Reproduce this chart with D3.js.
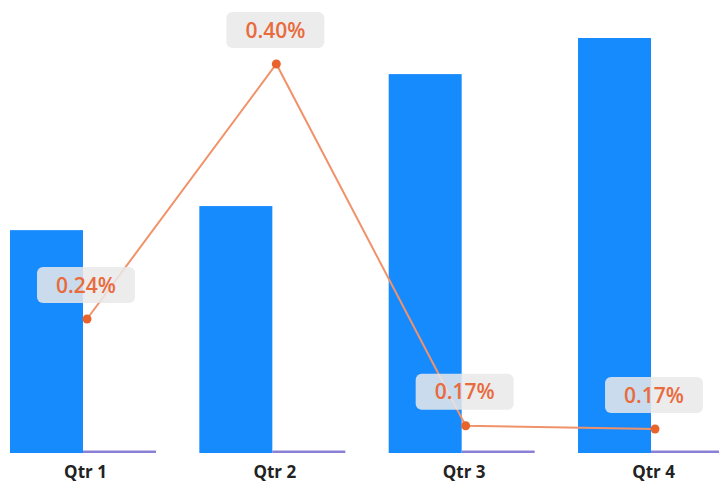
<!DOCTYPE html>
<html><head><meta charset="utf-8">
<script src="https://cdn.jsdelivr.net/npm/d3@7"></script>
<style>body{margin:0;background:#fff}svg{display:block}</style>
</head><body>
<svg id="chart" width="719" height="486"></svg>
<script>
const categories = ["Qtr 1", "Qtr 2", "Qtr 3", "Qtr 4"];
const barValues = [5.37, 5.95, 9.13, 10.0];
const baseValues = [0.06, 0.06, 0.06, 0.06];
const rateValues = [0.24, 0.40, 0.173, 0.171];
const rateLabels = ["0.24%", "0.40%", "0.17%", "0.17%"];

const svg = d3.select("#chart");
const x = d3.scaleBand().domain(categories).range([0, 734]).paddingInner(0.229).paddingOuter(0.0528);
const xs = d3.scaleBand().domain(["bar", "base"]).range([0, x.bandwidth()]);
const y = d3.scaleLinear().domain([0, 10]).range([453, 38]);
const y2 = d3.scaleLinear().domain([0.16, 0.40]).range([446.5, 64]);

const g = svg.append("g");
g.selectAll("rect.bar").data(categories).join("rect").attr("class", "bar")
  .attr("x", d => x(d) + xs("bar")).attr("width", xs.bandwidth())
  .attr("y", (d, i) => y(barValues[i])).attr("height", (d, i) => y(0) - y(barValues[i]))
  .attr("fill", "#168bfe");
g.selectAll("rect.base").data(categories).join("rect").attr("class", "base")
  .attr("x", d => x(d) + xs("base")).attr("width", xs.bandwidth())
  .attr("y", (d, i) => y(baseValues[i])).attr("height", (d, i) => y(0) - y(baseValues[i]))
  .attr("fill", "#8a80d6");

const px = d => x(d) + xs("base") + 4;
const pts = categories.map((c, i) => [px(c), y2(rateValues[i])]);
g.append("path").datum(pts).attr("d", d3.line()).attr("fill", "none")
  .attr("stroke", "#f0926a").attr("stroke-width", 2);
g.selectAll("circle").data(pts).join("circle")
  .attr("cx", d => d[0]).attr("cy", d => d[1]).attr("r", 4.5).attr("fill", "#e8642c");

const lab = g.selectAll("g.lab").data(pts).join("g").attr("class", "lab")
  .attr("transform", d => `translate(${d[0] - 1},${d[1] - 34})`);
lab.append("rect").attr("x", -49).attr("y", -18).attr("width", 98).attr("height", 36)
  .attr("rx", 6).attr("fill", "#e9e9e9").attr("fill-opacity", 0.85);
lab.append("text").attr("text-anchor", "middle").attr("dy", "0.36em")
  .attr("font-family", "'Open Sans', sans-serif").attr("font-weight", 600).attr("font-size", 21)
  .attr("fill", "#e96a3c").text((d, i) => rateLabels[i]);

const ax = svg.append("g").attr("transform", "translate(0,453)")
  .call(d3.axisBottom(d3.scalePoint().domain(categories).range([x(categories[0]) + xs("base") + 2, x(categories[3]) + xs("base") + 2])).tickSize(0).tickPadding(13));
ax.select(".domain").remove();
ax.selectAll("text").attr("font-family", "'Open Sans', sans-serif").attr("font-weight", 700)
  .attr("font-size", 17).attr("fill", "#222");
</script>
</body></html>
